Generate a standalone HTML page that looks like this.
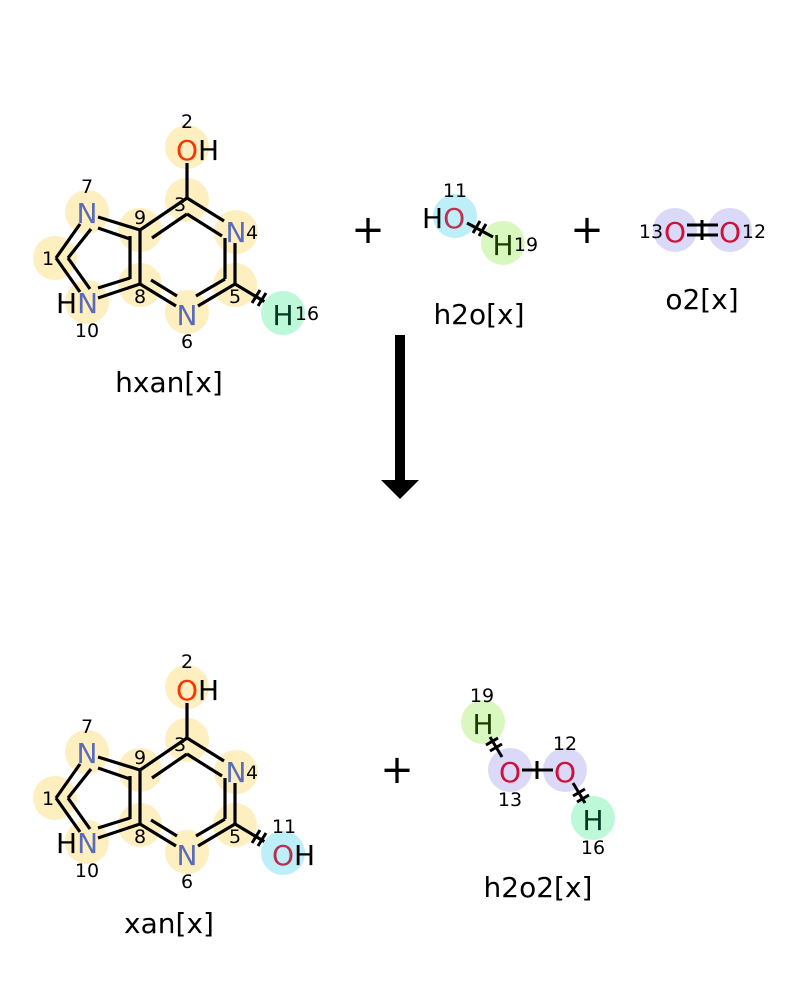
<!DOCTYPE html>
<html><head><meta charset="utf-8"><style>
html,body{margin:0;padding:0;background:#fff;}
svg{display:block;font-family:"DejaVu Sans","Liberation Sans",sans-serif;}
</style></head><body>
<svg width="800" height="1000" viewBox="0 0 800 1000" xmlns="http://www.w3.org/2000/svg">
<defs>
<g id="core">
  <g fill="#fdefbf">
    <circle cx="187" cy="147" r="22"/>
    <circle cx="187" cy="200" r="22"/>
    <circle cx="236" cy="232" r="22"/>
    <circle cx="235" cy="285" r="22"/>
    <circle cx="187" cy="312" r="22"/>
    <circle cx="140" cy="285" r="22"/>
    <circle cx="140" cy="230" r="22"/>
    <circle cx="87" cy="212" r="22"/>
    <circle cx="55" cy="258" r="22"/>
    <circle cx="87" cy="302" r="22"/>
  </g>
  <g stroke="#000" stroke-width="3.2" fill="none" stroke-linecap="butt">
    <line x1="187" y1="163" x2="187" y2="198"/>
    <line x1="187" y1="198" x2="224" y2="221"/>
    <line x1="140" y1="230" x2="187" y2="198"/>
    <line x1="152" y1="238" x2="187" y2="214"/>
    <line x1="187" y1="214" x2="222" y2="236"/>
    <line x1="235" y1="243" x2="235" y2="284"/>
    <line x1="225" y1="238" x2="225" y2="279"/>
    <line x1="235" y1="284" x2="198" y2="306"/>
    <line x1="225" y1="279" x2="196" y2="296"/>
    <line x1="176" y1="306" x2="140" y2="284"/>
    <line x1="177" y1="296" x2="151" y2="280"/>
    <line x1="140" y1="284" x2="140" y2="230"/>
    <line x1="130" y1="279" x2="130" y2="236"/>
    <line x1="140" y1="230" x2="98" y2="217"/>
    <line x1="130" y1="239" x2="98" y2="228"/>
    <line x1="80" y1="224" x2="56" y2="258"/>
    <line x1="91" y1="229" x2="68" y2="258"/>
    <line x1="56" y1="258" x2="80" y2="292"/>
    <line x1="68" y1="258" x2="90" y2="289"/>
    <line x1="98" y1="298" x2="140" y2="284"/>
    <line x1="98" y1="288" x2="130" y2="278"/>
    <line x1="235" y1="284" x2="270" y2="305"/>
  </g>
  <g stroke="#000" stroke-width="3">
    <line x1="252" y1="303" x2="260" y2="290"/>
    <line x1="258" y1="306" x2="266" y2="293"/>
  </g>
  <g font-size="28">
    <text x="176" y="160"><tspan fill="#ff3300">O</tspan><tspan fill="#000">H</tspan></text>
    <text x="236" y="242" fill="#5a6bbd" text-anchor="middle">N</text>
    <text x="187" y="325" fill="#5a6bbd" text-anchor="middle">N</text>
    <text x="87" y="223" fill="#5a6bbd" text-anchor="middle">N</text>
    <text x="56" y="313"><tspan fill="#000">H</tspan><tspan fill="#5a6bbd">N</tspan></text>
  </g>
  <g font-size="19" text-anchor="middle" fill="#000">
    <text x="187" y="128">2</text>
    <text x="180" y="211">3</text>
    <text x="252" y="239">4</text>
    <text x="235" y="303">5</text>
    <text x="187" y="348">6</text>
    <text x="87" y="193">7</text>
    <text x="140" y="303">8</text>
    <text x="140" y="224">9</text>
    <text x="48" y="265">1</text>
    <text x="87" y="337">10</text>
  </g>
</g>
</defs>

<use href="#core"/>
<circle cx="283" cy="313" r="22" fill="#bdf8d8"/>
<text x="283" y="325" font-size="28" text-anchor="middle" fill="#003820">H</text>
<text x="307" y="320" font-size="19" text-anchor="middle">16</text>
<text x="169" y="392" font-size="28" text-anchor="middle">hxan[x]</text>

<g transform="translate(0,540)"><use href="#core"/></g>
<circle cx="283" cy="853" r="22" fill="#bdeff8"/>
<text x="272" y="865" font-size="28"><tspan fill="#b83050">O</tspan><tspan fill="#000">H</tspan></text>
<text x="284" y="833" font-size="19" text-anchor="middle">11</text>
<text x="169" y="933" font-size="28" text-anchor="middle">xan[x]</text>

<!-- h2o -->
<circle cx="455" cy="216" r="22" fill="#bdeff8"/>
<circle cx="503" cy="243" r="22" fill="#d8f8c0"/>
<line x1="467" y1="223" x2="493" y2="237" stroke="#000" stroke-width="3"/>
<g stroke="#000" stroke-width="3"><line x1="473" y1="233" x2="480" y2="221"/><line x1="479" y1="236" x2="486" y2="224"/></g>
<text x="422" y="228" font-size="28"><tspan fill="#000">H</tspan><tspan fill="#c03050">O</tspan></text>
<text x="503" y="255" font-size="28" text-anchor="middle" fill="#1a3a00">H</text>
<text x="526" y="251" font-size="19" text-anchor="middle">19</text>
<text x="455" y="197" font-size="19" text-anchor="middle">11</text>
<text x="479" y="324" font-size="28" text-anchor="middle">h2o[x]</text>

<!-- o2 -->
<circle cx="675" cy="230" r="22" fill="#dadaf8"/>
<circle cx="730" cy="230" r="22" fill="#dadaf8"/>
<g stroke="#000" stroke-width="3"><line x1="687" y1="225" x2="718" y2="225"/><line x1="687" y1="235" x2="718" y2="235"/><line x1="702" y1="220" x2="702" y2="240"/></g>
<text x="675" y="242" font-size="28" text-anchor="middle" fill="#d0103a">O</text>
<text x="730" y="242" font-size="28" text-anchor="middle" fill="#d0103a">O</text>
<text x="651" y="238" font-size="19" text-anchor="middle">13</text>
<text x="754" y="238" font-size="19" text-anchor="middle">12</text>
<text x="702" y="309" font-size="28" text-anchor="middle">o2[x]</text>

<!-- pluses -->
<g font-size="40" text-anchor="middle"><text x="368" y="243">+</text><text x="587" y="243">+</text><text x="397" y="783">+</text></g>

<!-- arrow -->
<rect x="395" y="335" width="10" height="147" fill="#000"/>
<polygon points="381,480 419,480 400,499" fill="#000"/>

<!-- h2o2 -->
<circle cx="483" cy="722" r="22" fill="#d8f8c0"/>
<circle cx="510" cy="770" r="22" fill="#dadaf8"/>
<circle cx="565" cy="770" r="22" fill="#dadaf8"/>
<circle cx="593" cy="818" r="22" fill="#bdf8d8"/>
<g stroke="#000" stroke-width="3">
  <line x1="490" y1="737" x2="502" y2="757"/>
  <line x1="486" y1="745" x2="498" y2="738"/><line x1="490" y1="751" x2="502" y2="744"/>
  <line x1="522" y1="770" x2="553" y2="770"/>
  <line x1="537" y1="761" x2="537" y2="779"/>
  <line x1="573" y1="783" x2="585" y2="803"/>
  <line x1="573" y1="796" x2="585" y2="789"/><line x1="577" y1="802" x2="589" y2="795"/>
</g>
<text x="483" y="734" font-size="28" text-anchor="middle" fill="#1a3a00">H</text>
<text x="510" y="782" font-size="28" text-anchor="middle" fill="#d0103a">O</text>
<text x="565" y="782" font-size="28" text-anchor="middle" fill="#d0103a">O</text>
<text x="593" y="830" font-size="28" text-anchor="middle" fill="#003820">H</text>
<text x="482" y="702" font-size="19" text-anchor="middle">19</text>
<text x="565" y="750" font-size="19" text-anchor="middle">12</text>
<text x="510" y="806" font-size="19" text-anchor="middle">13</text>
<text x="593" y="854" font-size="19" text-anchor="middle">16</text>
<text x="538" y="897" font-size="28" text-anchor="middle">h2o2[x]</text>
</svg>
</body></html>
